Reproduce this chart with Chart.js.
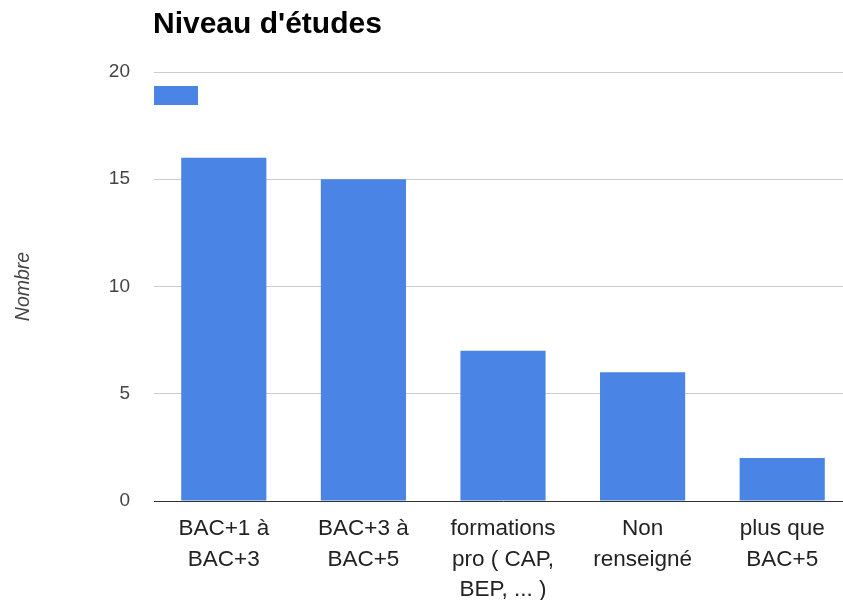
<!DOCTYPE html>
<html lang="fr">
<head>
<meta charset="utf-8">
<title>Niveau d'études</title>
<script src="https://cdn.jsdelivr.net/npm/chart.js@4.4.1/dist/chart.umd.min.js"></script>
<style>
  html, body { margin: 0; padding: 0; background: #fff; overflow: hidden; }
  #wrap { position: relative; width: 852px; height: 600px; }
</style>
</head>
<body>
<div id="wrap"><canvas id="chart"></canvas></div>
<script>
// Niveau d'études des répondants
const categories = [
  ['BAC+1 à', 'BAC+3'],
  ['BAC+3 à', 'BAC+5'],
  ['formations', 'pro ( CAP,', 'BEP, ... )'],
  ['Non', 'renseigné'],
  ['plus que', 'BAC+5']
];
const nombre = [16, 15, 7, 6, 2];
const yTicks = [0, 5, 10, 15, 20];

const FONT = "'Liberation Sans', Arial, Helvetica, sans-serif";
const BLUE = '#4a84e4';

// title starts at the plot's left edge; legend swatch sits inside the plot, under the top gridline
const placeBlocks = {
  id: 'placeBlocks',
  afterLayout(chart) {
    const area = chart.chartArea;
    if (chart.titleBlock) chart.titleBlock.left = area.left - 1;
    const lg = chart.legend;
    if (lg) {
      const h = lg.bottom - lg.top;
      lg.top = area.top + 14;
      lg.bottom = lg.top + h;
      lg.left = area.left;
    }
  }
};

new Chart(document.getElementById('chart'), {
  type: 'bar',
  data: {
    labels: categories,
    datasets: [{
      label: '',
      data: nombre,
      backgroundColor: BLUE,
      borderWidth: 0,
      barPercentage: 0.61,
      categoryPercentage: 1
    }]
  },
  options: {
    responsive: true,
    maintainAspectRatio: false,
    animation: false,
    layout: { padding: 0 },
    plugins: {
      tooltip: { enabled: false },
      title: {
        display: true,
        text: "Niveau d'études",
        align: 'start',
        color: '#000',
        font: { family: FONT, size: 30, weight: 'bold', lineHeight: 1.2 },
        padding: { top: 7, bottom: 29 }
      },
      legend: {
        display: true,
        position: 'chartArea',
        align: 'start',
        labels: {
          boxWidth: 44,
          boxHeight: 19,
          padding: 0,
          font: { family: FONT, size: 19 },
          color: '#222'
        }
      }
    },
    scales: {
      x: {
        grid: { display: false, drawTicks: false },
        border: { display: true, color: '#333', width: 1 },
        ticks: {
          color: '#222',
          padding: 13,
          maxRotation: 0,
          autoSkip: false,
          font: { family: FONT, size: 22.5, lineHeight: '30.5px' }
        },
        afterFit(scale) { scale.height = 99; }
      },
      y: {
        min: 0,
        max: 20,
        afterBuildTicks(scale) { scale.ticks = yTicks.map(v => ({ value: v })); },
        grid: {
          drawTicks: false,
          color: ctx => (ctx.tick && ctx.tick.value === 0) ? 'rgba(0,0,0,0)' : '#cccccc',
          lineWidth: 1
        },
        border: { display: false },
        ticks: {
          color: '#444',
          padding: 24,
          font: { family: FONT, size: 19 }
        },
        title: {
          display: true,
          text: 'Nombre',
          color: '#444',
          padding: { top: 11.6, bottom: 0 },
          font: { family: FONT, size: 19.5, style: 'italic', lineHeight: 1.2 }
        },
        afterFit(scale) { scale.width = 154; }
      }
    }
  },
  plugins: [placeBlocks]
});
</script>
</body>
</html>
